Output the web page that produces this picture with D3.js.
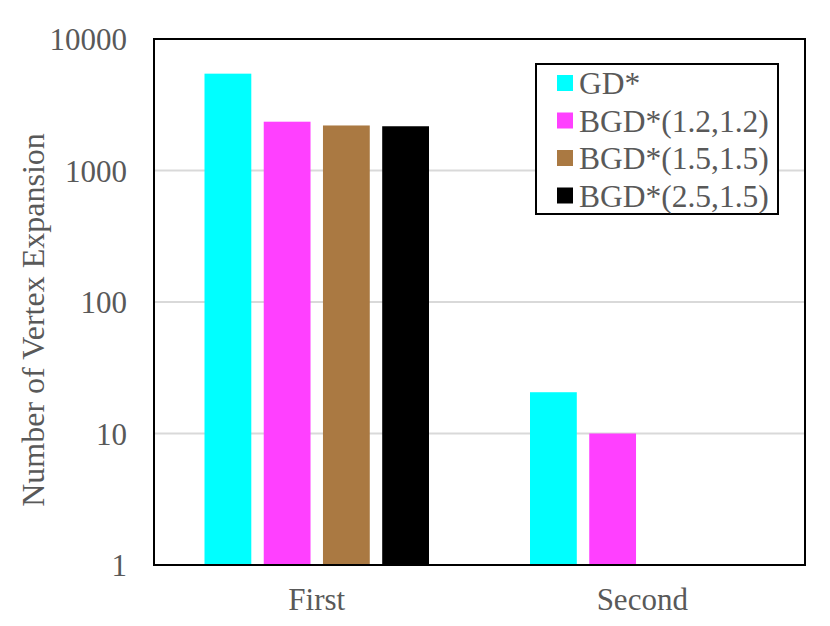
<!DOCTYPE html>
<html>
<head>
<meta charset="utf-8">
<script src="https://cdn.jsdelivr.net/npm/d3@7"></script>
<style>
  body { margin: 0; background: #fff; }
  text { font-family: "Liberation Serif", "Times New Roman", serif; }
</style>
</head>
<body>
<div id="chart"></div>
<script>
"use strict";

// Data
const categories = ["First", "Second"];
const seriesNames = ["GD*", "BGD*(1.2,1.2)", "BGD*(1.5,1.5)", "BGD*(2.5,1.5)"];
const seriesColors = ["#00ffff", "#ff40ff", "#aa7942", "#000000"];
const gdStar = [5450, 20.6];
const bgd1212 = [2350, 10];
const bgd1515 = [2200, null];
const bgd2515 = [2170, null];
const yTicks = [1, 10, 100, 1000, 10000];

const seriesValues = [gdStar, bgd1212, bgd1515, bgd2515];

// Layout
const W = 830, H = 626;
const M = { left: 154, top: 39, right: 25, bottom: 61 };
const PW = W - M.left - M.right;
const PH = H - M.top - M.bottom;

const svg = d3.select("#chart")
  .append("svg")
    .attr("width", W)
    .attr("height", H);

const g = svg.append("g")
    .attr("transform", `translate(${M.left},${M.top})`);

const x0 = d3.scaleBand()
    .domain(categories)
    .range([0, PW])
    .paddingInner(0)
    .paddingOuter(0);

const x1 = d3.scaleBand()
    .domain(seriesNames)
    .range([50.5, x0.bandwidth() - 50.5])
    .paddingInner(0.21)
    .paddingOuter(0);

const y = d3.scaleLog()
    .domain([1, 10000])
    .range([PH, 0]);

// Gridlines
g.append("g")
  .selectAll("line")
  .data(yTicks.slice(1, -1))
  .join("line")
    .attr("x1", 0)
    .attr("x2", PW)
    .attr("y1", d => y(d))
    .attr("y2", d => y(d))
    .attr("stroke", "#d9d9d9")
    .attr("stroke-width", 2);

// Bars
const rows = [];
categories.forEach((c, ci) => {
    seriesNames.forEach((s, si) => {
        const v = seriesValues[si][ci];
        if (v != null) rows.push({ c, s, v, color: seriesColors[si] });
    });
});

g.append("g")
  .selectAll("rect")
  .data(rows)
  .join("rect")
    .attr("x", d => x0(d.c) + x1(d.s))
    .attr("width", x1.bandwidth())
    .attr("y", d => y(d.v))
    .attr("height", d => PH - y(d.v))
    .attr("fill", d => d.color);

// Frame
g.append("rect")
    .attr("x", 0)
    .attr("y", 0)
    .attr("width", PW)
    .attr("height", PH)
    .attr("fill", "none")
    .attr("stroke", "#000")
    .attr("stroke-width", 2);

// Y axis
const yAxis = g.append("g")
    .call(d3.axisLeft(y).tickValues(yTicks).tickFormat(d3.format("d")).tickSize(0).tickPadding(27));
yAxis.select(".domain").remove();
yAxis.selectAll("text")
    .attr("fill", "#595959")
    .attr("dy", "0.34em")
    .style("font-size", "31px");

// X axis
const xAxis = g.append("g")
    .attr("transform", `translate(0,${PH})`)
    .call(d3.axisBottom(x0).tickSize(0).tickPadding(23));
xAxis.select(".domain").remove();
xAxis.selectAll("text")
    .attr("fill", "#595959")
    .style("font-size", "31px");

// Y axis title
svg.append("text")
    .attr("transform", `translate(44,${M.top + PH / 2 + 18}) rotate(-90)`)
    .attr("text-anchor", "middle")
    .attr("fill", "#595959")
    .style("font-size", "32px")
    .text("Number of Vertex Expansion");

// Legend
const legend = svg.append("g")
    .attr("transform", "translate(536,64)");

legend.append("rect")
    .attr("width", 242)
    .attr("height", 150)
    .attr("fill", "#fff")
    .attr("stroke", "#000")
    .attr("stroke-width", 2);

const items = legend.selectAll("g.item")
  .data(seriesNames)
  .join("g")
    .attr("class", "item")
    .attr("transform", (d, i) => `translate(0,${19 + i * 37.5})`);

items.append("rect")
    .attr("x", 21)
    .attr("y", -8)
    .attr("width", 16)
    .attr("height", 16)
    .attr("fill", (d, i) => seriesColors[i]);

items.append("text")
    .attr("x", 43)
    .attr("dy", "0.35em")
    .attr("fill", "#595959")
    .style("font-size", "31.5px")
    .text(d => d);
</script>
</body>
</html>
